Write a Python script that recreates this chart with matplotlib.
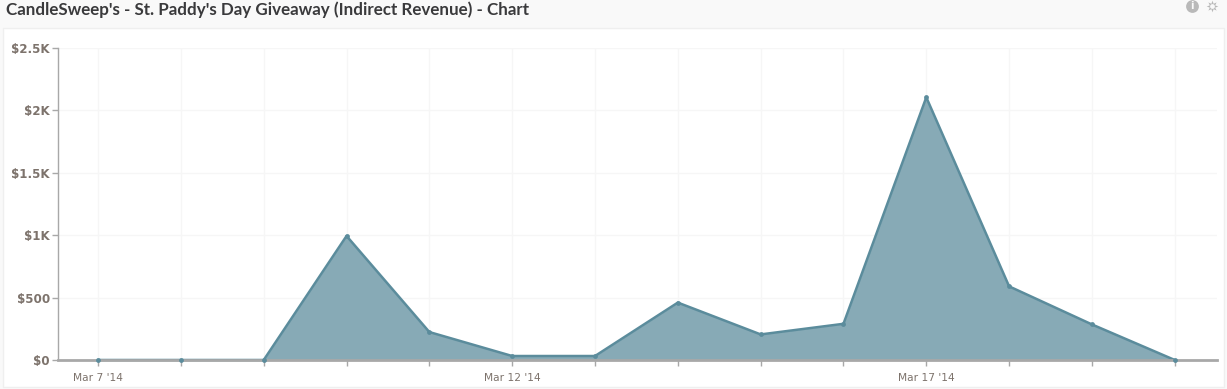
import matplotlib
matplotlib.use("Agg")
import matplotlib.pyplot as plt
from matplotlib.patches import Rectangle
import numpy as np

W, H = 1227, 389

days = list(range(7, 21))
revenue = [0, 0, 0, 994, 224, 32, 32, 460, 205, 290, 2105, 590, 285, 0]
y_ticks = [0, 500, 1000, 1500, 2000, 2500]
y_labels = ["$0", "$500", "$1K", "$1.5K", "$2K", "$2.5K"]
x_labels = {7: "Mar 7 '14", 12: "Mar 12 '14", 17: "Mar 17 '14"}
title = "CandleSweep's - St. Paddy's Day Giveaway (Indirect Revenue) - Chart"

line_color = "#5b8c9c"
fill_color = "#87aab6"
axis_color = "#a8a8a8"
grid_color = "#f6f6f6"
tick_text = "#7d736c"

fig = plt.figure(figsize=(W / 100, H / 100), dpi=100, facecolor="#f9f9f9")

# page backdrop in pixel coordinates: white panel plus header icons
bg = fig.add_axes([0, 0, 1, 1], zorder=0)
bg.set_xlim(0, W)
bg.set_ylim(H, 0)
bg.axis("off")
bg.add_patch(Rectangle((3, 28), 1221, 359, facecolor="white", edgecolor="#efefef", lw=1))
bg.text(6, 9.5, title, fontsize=12.22, family="Lato", fontweight="bold", color="#3a3a3c",
        va="center", ha="left")
bg.scatter([1192], [6], s=85, color="#b9b9b9", lw=0)
bg.text(1192, 6, "i", fontsize=7, family="DejaVu Sans", fontweight="bold", color="#f9f9f9",
        ha="center", va="center")
bg.scatter([1212], [6], s=70, marker=(8, 1, 0), color="#b9b9b9", lw=0)
bg.scatter([1212], [6], s=12, color="#f9f9f9", lw=0)

x0, x1, y_top, y_bot = 57.5, 1217, 48, 360
ax = fig.add_axes([x0 / W, 1 - y_bot / H, (x1 - x0) / W, (y_bot - y_top) / H], zorder=1)
ax.patch.set_alpha(0)
ax.set_xlim(6.51, 20.51)
ax.set_ylim(0, 2500)

ax.grid(True, color=grid_color, lw=1)
ax.set_axisbelow(True)

ax.fill_between(days, revenue, 0, color=fill_color, lw=0, zorder=2)
ax.plot(days, revenue, color=line_color, lw=1.8, zorder=3, clip_on=False)
ax.scatter(days, revenue, s=12, color=line_color, lw=0, zorder=5, clip_on=False)

for s in ["top", "right"]:
    ax.spines[s].set_visible(False)
ax.spines["left"].set_color(axis_color)
ax.spines["left"].set_linewidth(1)
ax.spines["bottom"].set_color(axis_color)
ax.spines["bottom"].set_linewidth(2)
# the grey axis sits over the flat zero stretches of the line
ax.spines["bottom"].set_zorder(4)

ax.set_yticks(y_ticks)
ax.set_yticklabels(y_labels, fontsize=8.6, family="DejaVu Sans", fontweight="bold", color=tick_text)
ax.set_xticks(days)
ax.set_xticklabels([x_labels.get(d, "") for d in days], fontsize=7.7, family="DejaVu Sans", color=tick_text)
ax.tick_params(axis="y", length=4, width=1, color=axis_color, pad=1.5)
ax.tick_params(axis="x", length=4, width=1, color=axis_color, pad=5.5)

fig.savefig("out.png", dpi=100, facecolor=fig.get_facecolor())
